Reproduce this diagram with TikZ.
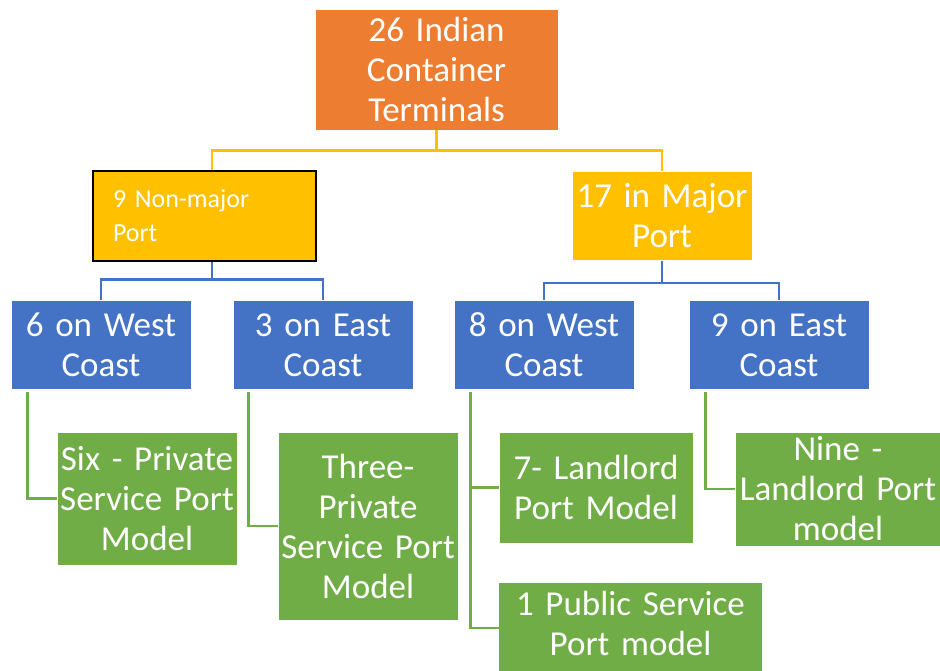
\documentclass[tikz,border=0pt]{standalone}
\usepackage{fontspec}
\setmainfont{Carlito}
\definecolor{orng}{HTML}{ED7D31}
\definecolor{ylw}{HTML}{FFC000}
\definecolor{blu}{HTML}{4472C4}
\definecolor{grn}{HTML}{70AD47}
\tikzset{
  box/.style={rectangle, inner sep=0pt, align=center, text=white,
    font=\fontsize{35}{40}\selectfont, draw=white, line width=0.6pt},
  conn/.style={line width=2.6pt}
}
\begin{document}
\begin{tikzpicture}[x=1pt,y=-1pt]
\useasboundingbox (0,0) rectangle (940,670);
\clip (0,0) rectangle (940,670);
% level 0
\node[box, fill=orng, minimum width=243pt, minimum height=121pt, text width=243pt] (top) at (436.5,69.5) {26 Indian\\Container\\Terminals};
% level 1
\node[box, fill=ylw, draw=black, line width=1.2pt, align=left,
  font=\fontsize{26}{34}\selectfont, text width=183pt,
  minimum width=223pt, minimum height=90pt] (nm) at (204.5,216) {9 Non-major\\Port};
\node[box, fill=ylw, minimum width=180pt, minimum height=89pt, text width=180pt] (mj) at (662,216) {17 in Major\\Port};
% level 2
\node[box, fill=blu, minimum width=180pt, minimum height=89pt, text width=180pt] (w1) at (101,345) {6 on West\\Coast};
\node[box, fill=blu, minimum width=180pt, minimum height=89pt, text width=180pt] (e1) at (323,345) {3 on East\\Coast};
\node[box, fill=blu, minimum width=180pt, minimum height=89pt, text width=180pt] (w2) at (544,345) {8 on West\\Coast};
\node[box, fill=blu, minimum width=180pt, minimum height=89pt, text width=180pt] (e2) at (779,345) {9 on East\\Coast};
% level 3
\node[box, fill=grn, minimum width=180pt, minimum height=133pt, text width=180pt] (g1) at (147,498.5) {Six - Private\\Service Port\\Model};
\node[box, fill=grn, minimum width=180pt, minimum height=188pt, text width=180pt] (g2) at (368,526) {Three-\\Private\\Service Port\\Model};
\node[box, fill=grn, minimum width=194pt, minimum height=111pt, text width=194pt] (g3) at (596,487.5) {7- Landlord\\Port Model};
\fill[grn] (499,640) rectangle (762,690);
\node[box, fill=grn, minimum width=263pt, minimum height=81pt, text width=263pt, draw=none] (g4) at (630.5,623.5) {1 Public Service\\Port model};
\node[box, fill=grn, minimum width=206pt, minimum height=114pt, text width=206pt] (g5) at (838,489) {Nine -\\Landlord Port\\model};
% connectors level 0 -> 1
\draw[conn, ylw] (top.south) -- ++(0,20) coordinate (tj);
\draw[conn, ylw] (tj) -| ([xshift=7.5pt]nm.north);
\draw[conn, ylw] (tj) -| (mj.north);
% level 1 -> 2
\draw[conn, blu] ([xshift=7.5pt]nm.south) -- ++(0,18) coordinate (nj);
\draw[conn, blu] (nj) -| (w1.north);
\draw[conn, blu] (nj) -| (e1.north);
\draw[conn, blu] (mj.south) -- ++(0,22) coordinate (mjj);
\draw[conn, blu] (mjj) -| (w2.north);
\draw[conn, blu] (mjj) -| (e2.north);
% level 2 -> 3
\draw[conn, grn] ([xshift=17pt,yshift=-2pt]w1.south west) |- (g1.west);
\draw[conn, grn] ([xshift=16pt,yshift=-2pt]e1.south west) |- (g2.west);
\draw[conn, grn] ([xshift=17pt,yshift=-2pt]w2.south west) |- (g3.west);
\draw[conn, grn] ([xshift=17pt,yshift=-2pt]w2.south west) |- ([yshift=-4.5pt]g4.west);
\draw[conn, grn] ([xshift=17pt,yshift=-2pt]e2.south west) |- (g5.west);
\end{tikzpicture}
\end{document}
